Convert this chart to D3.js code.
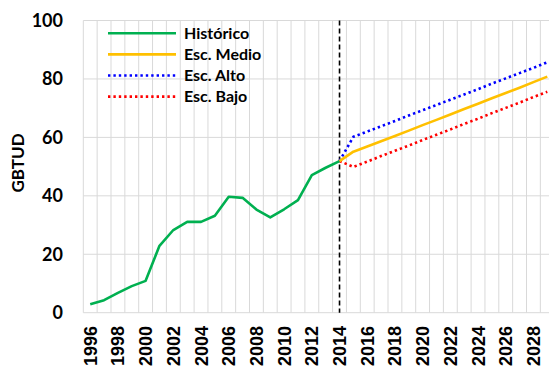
<!DOCTYPE html>
<html><head><meta charset="utf-8">
<script src="https://cdn.jsdelivr.net/npm/d3@7"></script>
<style>body{margin:0;background:#fff}svg{display:block}</style>
</head><body>
<svg id="c" width="549" height="368"></svg>
<script>
const years = d3.range(1996, 2030);
const histYears = d3.range(1996, 2015);
const histVals = [2.9,4.3,6.8,9.1,10.9,22.9,28.3,31.1,31.1,33.2,39.7,39.3,35.3,32.6,35.4,38.5,47.1,49.6,51.9];
const projYears = d3.range(2014, 2030);
const medioVals = [51.9,55.1,56.9,58.7,60.5,62.3,64.2,66.0,67.8,69.7,71.5,73.4,75.2,77.0,78.9,80.8];
const altoVals  = [51.9,60.2,62.0,63.8,65.6,67.5,69.3,71.1,72.9,74.7,76.5,78.4,80.2,82.0,83.8,85.7];
const bajoVals  = [51.9,49.9,51.7,53.6,55.4,57.2,59.1,60.9,62.7,64.6,66.4,68.3,70.1,71.9,73.8,75.6];
const yTicks = [0,20,40,60,80,100];
const xLabelYears = d3.range(1996, 2030, 2);
const cutYear = 2014;
const legendItems = [
  {name:"Histórico", color:"#00B050", dash:null},
  {name:"Esc. Medio", color:"#FFC000", dash:null},
  {name:"Esc. Alto", color:"#0000FF", dash:"2.4 3"},
  {name:"Esc. Bajo", color:"#FF0000", dash:"2.4 3"}
];

const svg = d3.select("#c");
const L = 83.3, R = 554.2, T = 20.5, B = 312.7;
const x = d3.scaleBand().domain(years).range([L, R]);
const cx = yr => x(yr) + x.bandwidth()/2;
const y = d3.scaleLinear().domain([0,100]).range([B, T]);

// gridlines
const g = svg.append("g");
years.forEach(yr => g.append("line").attr("x1", x(yr)).attr("x2", x(yr)).attr("y1", T).attr("y2", B)
  .attr("stroke", "#d9d9d9").attr("stroke-width", 1));
g.append("line").attr("x1", R).attr("x2", R).attr("y1", T).attr("y2", B).attr("stroke", "#d9d9d9");
yTicks.forEach(t => g.append("line").attr("x1", L).attr("x2", R).attr("y1", y(t)).attr("y2", y(t))
  .attr("stroke", "#d9d9d9").attr("stroke-width", 1));

// y axis labels
svg.append("g").selectAll("text").data(yTicks).join("text")
  .attr("x", 63).attr("y", d => y(d)).attr("dy", "0.36em").attr("text-anchor", "end")
  .attr("font-family", "Lato, sans-serif").attr("font-weight", "bold").attr("font-size", 18)
  .attr("fill", "#000").text(d => d);

svg.append("text").attr("transform", "translate(18,163) rotate(-90)").attr("text-anchor", "middle")
  .attr("dy", "0.36em").attr("font-family", "Lato, sans-serif").attr("font-weight", "bold")
  .attr("font-size", 17).text("GBTUD");

// x labels
svg.append("g").selectAll("text").data(xLabelYears).join("text")
  .attr("transform", d => `translate(${cx(d)},${326}) rotate(-90)`)
  .attr("text-anchor", "end").attr("dy", "0.36em")
  .attr("font-family", "'Liberation Sans', Arial, sans-serif").attr("font-weight", "bold").attr("font-size", 18)
  .text(d => d);

// cut line
svg.append("line").attr("x1", cx(cutYear)).attr("x2", cx(cutYear)).attr("y1", T).attr("y2", B)
  .attr("stroke", "#000").attr("stroke-width", 1.6).attr("stroke-dasharray", "5 3");

const line = d3.line().x(d => cx(d[0])).y(d => y(d[1]));
function draw(xs, vs, color, dash) {
  const p = svg.append("path").datum(xs.map((v,i) => [v, vs[i]])).attr("d", line)
    .attr("fill", "none").attr("stroke", color).attr("stroke-width", 2.6).attr("stroke-linejoin", "round");
  if (dash) p.attr("stroke-dasharray", dash);
}
draw(projYears, altoVals, "#0000FF", "2.4 3");
draw(projYears, bajoVals, "#FF0000", "2.4 3");
draw(histYears, histVals, "#00B050", null);
draw(projYears, medioVals, "#FFC000", null);

// legend
const lg = svg.append("g");
legendItems.forEach((it, i) => {
  const yy = 33.3 + i*21.1;
  const l = lg.append("line").attr("x1", 108).attr("x2", 176).attr("y1", yy).attr("y2", yy)
    .attr("stroke", it.color).attr("stroke-width", 2.6);
  if (it.dash) l.attr("stroke-dasharray", it.dash);
  lg.append("text").attr("x", 184).attr("y", yy).attr("dy", "0.36em")
    .attr("font-family", "Lato, sans-serif").attr("font-weight", "bold").attr("font-size", 16)
    .text(it.name);
});
</script>
</body></html>
